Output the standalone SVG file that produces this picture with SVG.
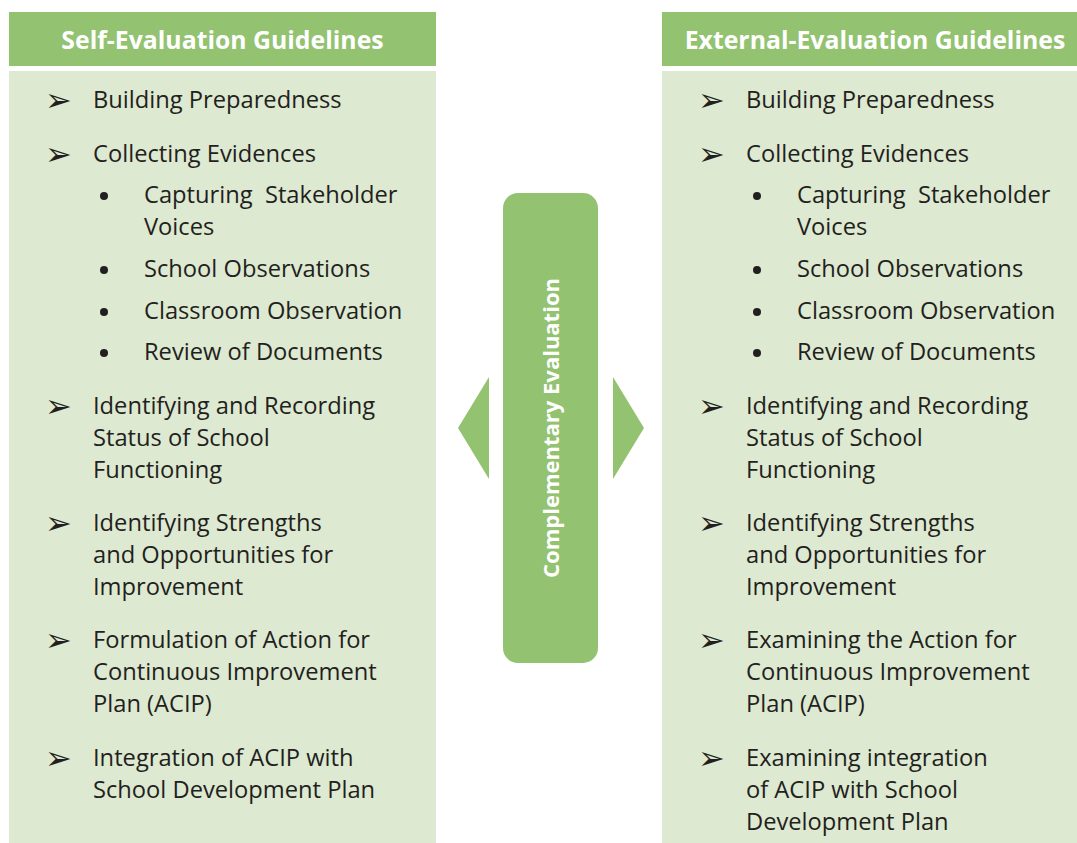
<svg xmlns="http://www.w3.org/2000/svg" width="1077" height="843" viewBox="0 0 1077 843">
  <style>
    .hdr { fill: #93c271; }
    .body { fill: #dde9d1; }
    .htxt { font-family: "Open Sans", "Noto Sans", sans-serif; font-weight: bold; font-size: 24.8px; fill: #ffffff; text-anchor: middle; }
    .txt { font-family: "Open Sans", "Noto Sans", sans-serif; font-size: 23.7px; fill: #231f20; }
    .arr { font-family: "DejaVu Sans", sans-serif; font-size: 32px; fill: #231f20; }
    .dot { fill: #231f20; }
    .ctxt { font-family: "Open Sans", "Noto Sans", sans-serif; font-weight: bold; font-size: 22px; fill: #ffffff; text-anchor: middle; }
  </style>

  <rect width="1077" height="843" fill="#ffffff"/>

  <!-- Left column: self-evaluation -->
  <g id="self-evaluation">
    <rect class="hdr" x="9" y="12" width="427" height="54"/>
    <rect class="body" x="9" y="71" width="427" height="772"/>
    <text class="htxt" x="222.5" y="49">Self-Evaluation Guidelines</text>
    <g class="arr">
      <text x="45" y="111">➢</text>
      <text x="45" y="165">➢</text>
      <text x="45" y="417">➢</text>
      <text x="45" y="534">➢</text>
      <text x="45" y="651">➢</text>
      <text x="45" y="769">➢</text>
    </g>
    <g class="dot">
      <circle cx="104" cy="196" r="4"/>
      <circle cx="104" cy="270" r="4"/>
      <circle cx="104" cy="312" r="4"/>
      <circle cx="104" cy="353" r="4"/>
    </g>
    <g class="txt">
      <text x="93" y="108">Building Preparedness</text>
      <text x="93" y="162">Collecting Evidences</text>
      <text x="144" y="203" xml:space="preserve">Capturing  Stakeholder</text>
      <text x="144" y="235">Voices</text>
      <text x="144" y="277">School Observations</text>
      <text x="144" y="319">Classroom Observation</text>
      <text x="144" y="360">Review of Documents</text>
      <text x="93" y="414">Identifying and Recording</text>
      <text x="93" y="446">Status of School</text>
      <text x="93" y="478">Functioning</text>
      <text x="93" y="531">Identifying Strengths</text>
      <text x="93" y="563">and Opportunities for</text>
      <text x="93" y="595">Improvement</text>
      <text x="93" y="648">Formulation of Action for</text>
      <text x="93" y="680">Continuous Improvement</text>
      <text x="93" y="712">Plan (ACIP)</text>
      <text x="93" y="766">Integration of ACIP with</text>
      <text x="93" y="798">School Development Plan</text>
    </g>
  </g>

  <!-- Right column: external evaluation -->
  <g id="external-evaluation">
    <rect class="hdr" x="662" y="12" width="415" height="54"/>
    <rect class="body" x="662" y="71" width="415" height="772"/>
    <text class="htxt" x="875" y="49">External-Evaluation Guidelines</text>
    <g class="arr">
      <text x="698" y="111">➢</text>
      <text x="698" y="165">➢</text>
      <text x="698" y="417">➢</text>
      <text x="698" y="534">➢</text>
      <text x="698" y="651">➢</text>
      <text x="698" y="769">➢</text>
    </g>
    <g class="dot">
      <circle cx="757" cy="196" r="4"/>
      <circle cx="757" cy="270" r="4"/>
      <circle cx="757" cy="312" r="4"/>
      <circle cx="757" cy="353" r="4"/>
    </g>
    <g class="txt">
      <text x="746" y="108">Building Preparedness</text>
      <text x="746" y="162">Collecting Evidences</text>
      <text x="797" y="203" xml:space="preserve">Capturing  Stakeholder</text>
      <text x="797" y="235">Voices</text>
      <text x="797" y="277">School Observations</text>
      <text x="797" y="319">Classroom Observation</text>
      <text x="797" y="360">Review of Documents</text>
      <text x="746" y="414">Identifying and Recording</text>
      <text x="746" y="446">Status of School</text>
      <text x="746" y="478">Functioning</text>
      <text x="746" y="531">Identifying Strengths</text>
      <text x="746" y="563">and Opportunities for</text>
      <text x="746" y="595">Improvement</text>
      <text x="746" y="648">Examining the Action for</text>
      <text x="746" y="680">Continuous Improvement</text>
      <text x="746" y="712">Plan (ACIP)</text>
      <text x="746" y="766">Examining integration</text>
      <text x="746" y="798">of ACIP with School</text>
      <text x="746" y="830">Development Plan</text>
    </g>
  </g>

  <!-- Centre bar -->
  <g id="complementary-evaluation">
    <rect class="hdr" x="503" y="193" width="95" height="470" rx="15" ry="15"/>
    <text class="ctxt" transform="translate(559 428) rotate(-90)">Complementary Evaluation</text>
  </g>

  <!-- Direction arrows on both sides of the bar -->
  <g id="connectors">
    <polygon class="hdr" points="489,377 489,479 458,428"/>
    <polygon class="hdr" points="613,377 613,479 644,428"/>
  </g>
</svg>
